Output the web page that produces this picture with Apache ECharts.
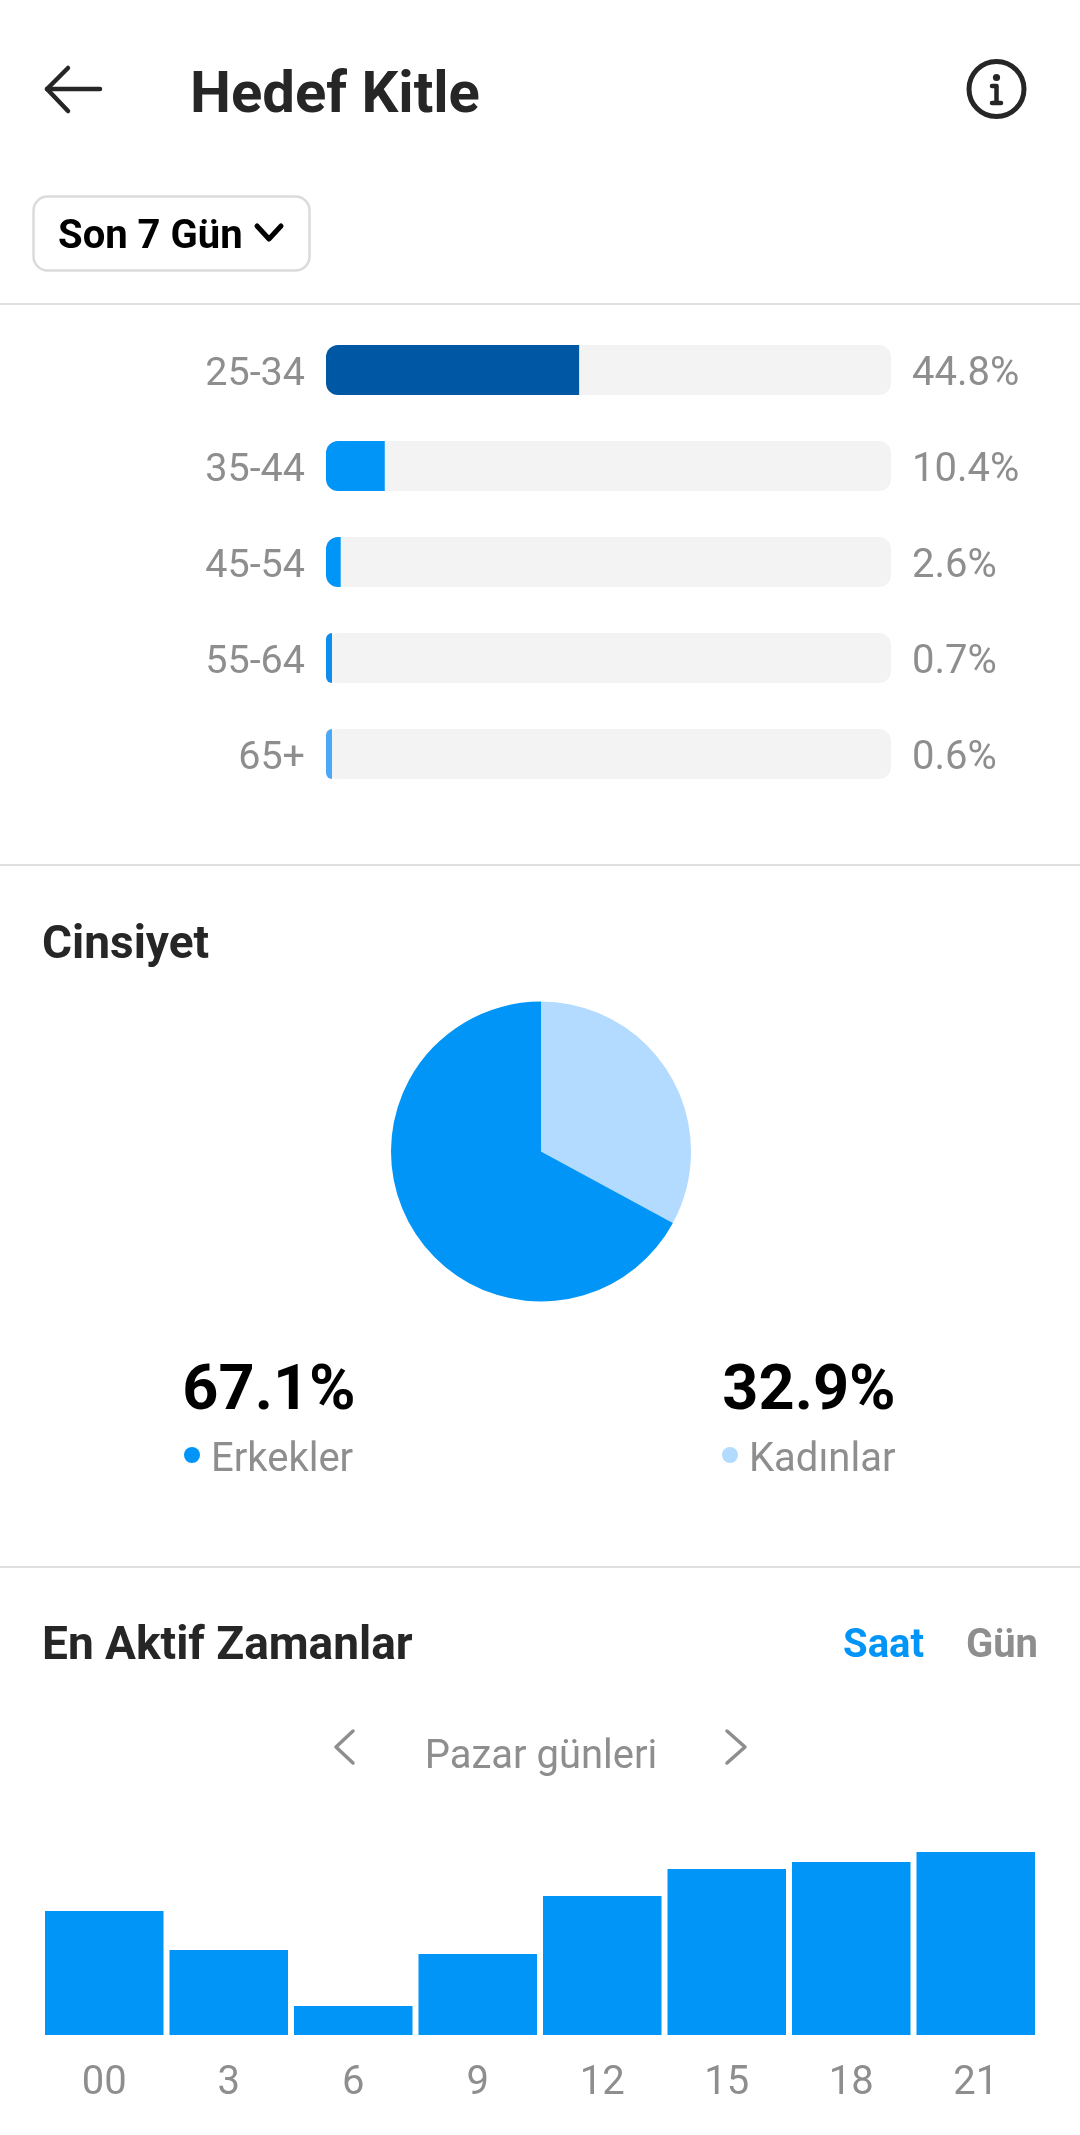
<!DOCTYPE html>
<html><head><meta charset="utf-8">
<style>html,body{margin:0;padding:0;background:#fff}#c{width:1080px;height:2135px}</style>
<script src="https://cdn.jsdelivr.net/npm/echarts@6/dist/echarts.min.js"></script>
</head><body><div id="c"></div>
<script>
const ageLabels = ['25-34','35-44','45-54','55-64','65+'];
const ageValues = [44.8,10.4,2.6,0.7,0.6];
const ageColors = ['#0058A5','#0095F6','#0095F6','#0D8DEC','#4BA8F7'];
const genderLabels = ['Kadınlar','Erkekler'];
const genderValues = [32.9,67.1];
const genderColors = ['#B3DBFF','#0095F6'];
const hourLabels = ['00','3','6','9','12','15','18','21'];
const hourValues = [124,85,29,81,139,166,173,183];

const F='Roboto, sans-serif', GREY='#8e8e8e', DARK='#262626', BLUE='#0095F6';
function T(text,x,y,size,weight,fill,align){
  return {type:'text',silent:true,style:{text,x,y,fill,textAlign:align||'left',textVerticalAlign:'middle',font:`${weight} ${size}px ${F}`}};
}
function L(pts,stroke,w){
  return {type:'polyline',silent:true,shape:{points:pts},style:{stroke,lineWidth:w,fill:null,lineCap:'round',lineJoin:'round'}};
}
function H(y){return {type:'line',silent:true,shape:{x1:0,y1:y,x2:1080,y2:y},style:{stroke:'#dfdfdf',lineWidth:2}};}

const chart=echarts.init(document.getElementById('c'),null,{renderer:'canvas'});
chart.setOption({
  animation:false,
  backgroundColor:'#fff',
  grid:[
    {left:326,top:322,width:565,height:480,containLabel:false},
    {left:42,top:1835,width:996,height:200,containLabel:false},
    {left:326,top:327,width:565,height:480,containLabel:false}
  ],
  xAxis:[
    {gridIndex:0,type:'value',min:0,max:100,show:false},
    {gridIndex:1,type:'category',data:hourLabels,axisLine:{show:false},axisTick:{show:false},
     axisLabel:{interval:0,color:GREY,fontFamily:F,fontSize:40,margin:29}},
    {gridIndex:2,type:'value',min:0,max:100,show:false}
  ],
  yAxis:[
    {gridIndex:0,type:'category',inverse:true,data:ageLabels,show:false},
    {gridIndex:2,type:'category',inverse:true,data:ageLabels,position:'left',axisLine:{show:false},axisTick:{show:false},
     axisLabel:{color:GREY,fontFamily:F,fontSize:39.5,margin:21}},
    {gridIndex:2,type:'category',inverse:true,data:ageValues.map(v=>v+'%'),position:'right',axisLine:{show:false},axisTick:{show:false},
     axisLabel:{color:GREY,fontFamily:F,fontSize:40,margin:21}},
    {gridIndex:1,type:'value',min:0,max:200,show:false,splitLine:{show:false}}
  ],
  series:[
    {type:'bar',xAxisIndex:0,yAxisIndex:0,barWidth:50,barMinHeight:6,
     showBackground:true,backgroundStyle:{color:'#F3F3F3',borderRadius:12},
     data:ageValues.map((v,i)=>({value:v,itemStyle:{color:ageColors[i],borderRadius:[12,0,0,12]}}))},
    {type:'pie',center:[541,1151.5],radius:[0,150],startAngle:90,clockwise:true,silent:true,
     label:{show:false},labelLine:{show:false},
     data:genderLabels.map((n,i)=>({name:n,value:genderValues[i],itemStyle:{color:genderColors[i]}}))},
    {type:'bar',xAxisIndex:1,yAxisIndex:3,barWidth:118.5,itemStyle:{color:BLUE},data:hourValues}
  ],
  graphic:[
    L([[68,68],[47,89],[68,111]],DARK,4.5),
    L([[47,89],[100,89]],DARK,4.5),
    T('Hedef Kitle',190,97,58,'bold',DARK),
    {type:'circle',silent:true,shape:{cx:996.5,cy:89,r:27.5},style:{stroke:DARK,lineWidth:5,fill:null}},
    {type:'circle',silent:true,shape:{cx:996.5,cy:77.5,r:3.6},style:{fill:DARK}},
    L([[992,86],[996.5,86],[996.5,102]],DARK,4.5),
    L([[992,103],[1001,103]],DARK,4.5),

    {type:'rect',silent:true,shape:{x:33.5,y:196.5,width:276,height:74,r:14},style:{fill:'#fff',stroke:'#dbdbdb',lineWidth:2.5}},
    T('Son 7 Gün',58,238,40,'bold','#000'),
    L([[257,226],[269,239],[281,226]],'#000',5),
    H(304),H(865),H(1567),

    T('Cinsiyet',42,946,46,'bold',DARK),
    T('67.1%',269,1393,63,'bold','#000','center'),
    T('32.9%',809,1393,63,'bold','#000','center'),
    {type:'circle',silent:true,shape:{cx:192,cy:1455,r:8},style:{fill:genderColors[1]}},
    T('Erkekler',211,1461,40,'normal',GREY),
    {type:'circle',silent:true,shape:{cx:730,cy:1455,r:8},style:{fill:genderColors[0]}},
    T('Kadınlar',749,1461,40,'normal',GREY),

    T('En Aktif Zamanlar',42,1647,46,'bold',DARK),
    T('Saat',924,1647,40,'bold',BLUE,'right'),
    T('Gün',1038,1647,40,'bold',GREY,'right'),
    T('Pazar günleri',541,1758,40,'normal',GREY,'center'),
    L([[353,1731],[336,1747],[353,1763]],GREY,3.5),
    L([[727,1731],[745,1747],[727,1763]],GREY,3.5)
  ]
});
</script></body></html>
